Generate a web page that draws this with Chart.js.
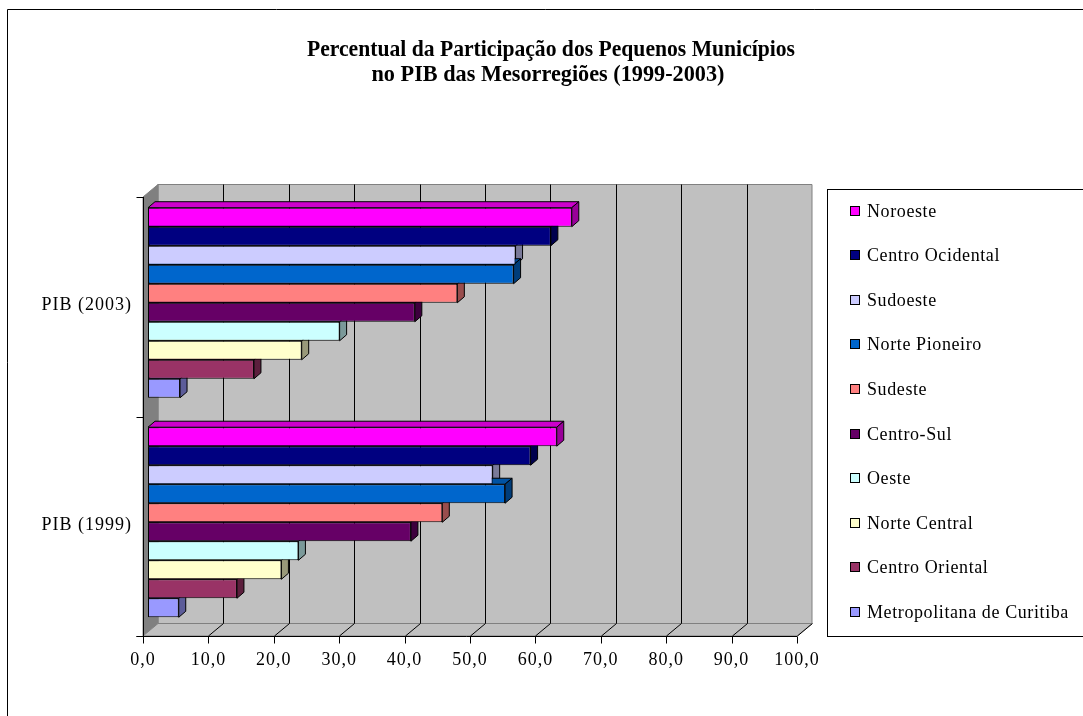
<!DOCTYPE html>
<html lang="pt-BR">
<head>
<meta charset="utf-8">
<title>Participação dos Pequenos Municípios no PIB</title>
<script src="https://cdn.jsdelivr.net/npm/chart.js@4.4.1/dist/chart.umd.min.js"></script>
<style>
  html, body { margin: 0; padding: 0; background: #fff; }
  #wrap { width: 1083px; height: 716px; }
</style>
</head>
<body>
<div id="wrap"><canvas id="pibChart" width="1083" height="716"></canvas></div>
<script>
// categorias (anos) e mesorregiões
const categorias = ['PIB (2003)', 'PIB (1999)'];
const regioes = [
    'Noroeste', 'Centro Ocidental', 'Sudoeste', 'Norte Pioneiro', 'Sudeste',
    'Centro-Sul', 'Oeste', 'Norte Central', 'Centro Oriental', 'Metropolitana de Curitiba'
];
// percentual de participação por mesorregião
const pib2003 = [64.8, 61.6, 56.2, 55.9, 47.3, 40.8, 29.3, 23.5, 16.2, 4.9];
const pib1999 = [62.5, 58.5, 52.7, 54.6, 45.0, 40.2, 23.0, 20.4, 13.6, 4.7];
const escalaX = [0, 100, 10];  // min, max, passo

const cores = ['#FF00FF', '#000080', '#CCCCFF', '#0066CC', '#FF8080',
               '#660066', '#CCFFFF', '#FFFFCC', '#993366', '#9999FF'];

const SERIF = '"Liberation Serif", "Times New Roman", serif';
const FRONT = { x: -5, y: 4 };     // front edge of walls/floor, relative to bar plane
const BACK = { x: 10, y: -8.5 };   // back wall, relative to bar plane
const BAR_D = { x: 7, y: -6 };     // depth of each bar

function shade(hex, f) {
    const n = parseInt(hex.slice(1), 16);
    const r = Math.round(((n >> 16) & 255) * f);
    const g = Math.round(((n >> 8) & 255) * f);
    const b = Math.round((n & 255) * f);
    return `rgb(${r},${g},${b})`;
}

function poly(ctx, pts, fill, stroke) {
    ctx.beginPath();
    ctx.moveTo(pts[0][0], pts[0][1]);
    for (let i = 1; i < pts.length; i++) ctx.lineTo(pts[i][0], pts[i][1]);
    ctx.closePath();
    if (fill) { ctx.fillStyle = fill; ctx.fill(); }
    if (stroke) { ctx.strokeStyle = stroke; ctx.lineWidth = 1; ctx.stroke(); }
}

function line(ctx, x1, y1, x2, y2, color) {
    ctx.beginPath();
    ctx.moveTo(x1, y1);
    ctx.lineTo(x2, y2);
    ctx.strokeStyle = color;
    ctx.lineWidth = 1;
    ctx.stroke();
}

// walls, floor, frame and title
const cenario3d = {
    id: 'cenario3d',
    beforeDraw(chart) {
        const ctx = chart.ctx;
        const a = chart.chartArea;
        const xs = chart.scales.x, ys = chart.scales.y;
        ctx.letterSpacing = '1px';

        ctx.save();
        // outer frame
        line(ctx, 7.5, 716, 7.5, 9.5, '#000');
        line(ctx, 7.5, 9.5, 1083, 9.5, '#000');

        // title
        ctx.letterSpacing = '0px';
        ctx.fillStyle = '#000';
        ctx.font = 'bold 24px ' + SERIF;
        ctx.textAlign = 'center';
        ctx.textBaseline = 'alphabetic';
        ctx.fillText('Percentual da Participação dos Pequenos Municípios', 551, 56, 488);
        ctx.fillText('no PIB das Mesorregiões (1999-2003)', 548, 81, 353);

        const x0 = xs.getPixelForValue(escalaX[0]);
        const x1 = xs.getPixelForValue(escalaX[1]);
        const top = a.top, bot = a.bottom;

        // back wall
        poly(ctx, [[x0 + BACK.x, top + BACK.y], [x1 + BACK.x, top + BACK.y],
                   [x1 + BACK.x, bot + BACK.y], [x0 + BACK.x, bot + BACK.y]], '#C0C0C0', '#808080');
        // side wall
        poly(ctx, [[x0 + FRONT.x, top + FRONT.y], [x0 + BACK.x, top + BACK.y],
                   [x0 + BACK.x, bot + BACK.y], [x0 + FRONT.x, bot + FRONT.y]], '#808080', '#808080');
        // floor
        poly(ctx, [[x0 + FRONT.x, bot + FRONT.y], [x0 + BACK.x, bot + BACK.y],
                   [x1 + BACK.x, bot + BACK.y], [x1 + FRONT.x, bot + FRONT.y]], '#C0C0C0', '#808080');

        // gridlines on the back wall and across the floor
        for (let v = escalaX[0] + escalaX[2]; v <= escalaX[1]; v += escalaX[2]) {
            const px = Math.round(xs.getPixelForValue(v)) + 0.5;
            if (v < escalaX[1]) line(ctx, px + BACK.x, top + BACK.y, px + BACK.x, bot + BACK.y, '#000');
            line(ctx, px + FRONT.x, bot + FRONT.y, px + BACK.x, bot + BACK.y, '#000');
        }

        // front axes
        const fx = Math.round(x0 + FRONT.x) + 0.5;
        const fy = Math.round(bot + FRONT.y) + 0.5;
        line(ctx, fx, top + FRONT.y, fx, fy, '#000');
        line(ctx, fx - 7, fy, x1 + FRONT.x, fy, '#000');
        for (let v = escalaX[0]; v <= escalaX[1]; v += escalaX[2]) {
            const px = Math.round(xs.getPixelForValue(v) + FRONT.x) + 0.5;
            line(ctx, px, fy, px, fy + 7, '#000');
        }
        const passo = (ys.bottom - ys.top) / categorias.length;
        for (let i = 0; i <= categorias.length; i++) {
            const py = Math.round(ys.top + passo * i + FRONT.y) + 0.5;
            line(ctx, fx - 7, py, fx, py, '#000');
        }
        ctx.restore();
        ctx.letterSpacing = '1px';
    },
    // top and side faces of each bar; the front faces come from the bar elements
    beforeDatasetsDraw(chart) {
        const ctx = chart.ctx;
        ctx.save();
        chart.data.datasets.forEach((ds, i) => {
            const meta = chart.getDatasetMeta(i);
            meta.data.forEach(bar => {
                const { x, y, base, height } = bar.getProps(['x', 'y', 'base', 'height'], true);
                const yt = y - height / 2, yb = y + height / 2;
                poly(ctx, [[base, yt], [base + BAR_D.x, yt + BAR_D.y], [x + BAR_D.x, yt + BAR_D.y], [x, yt]],
                     shade(ds.backgroundColor, 0.8), '#000');
                poly(ctx, [[x, yt], [x + BAR_D.x, yt + BAR_D.y], [x + BAR_D.x, yb + BAR_D.y], [x, yb]],
                     shade(ds.backgroundColor, 0.6), '#000');
            });
        });
        ctx.restore();
    },
    // boxed legend on the right
    afterDraw(chart) {
        const ctx = chart.ctx;
        ctx.save();
        ctx.strokeStyle = '#000';
        ctx.lineWidth = 1;
        ctx.strokeRect(827.5, 189.5, 300, 447);
        ctx.font = '18px ' + SERIF;
        ctx.letterSpacing = '0.6px';
        ctx.textAlign = 'left';
        ctx.textBaseline = 'alphabetic';
        chart.data.datasets.forEach((ds, i) => {
            const by = Math.round(216.5 + 44.6 * i);
            ctx.fillStyle = ds.backgroundColor;
            ctx.fillRect(850, by - 11, 10, 10);
            ctx.strokeRect(850.5, by - 10.5, 9, 9);
            ctx.fillStyle = '#000';
            ctx.fillText(ds.label, 867, by);
        });
        ctx.restore();
    }
};

new Chart(document.getElementById('pibChart'), {
    type: 'bar',
    data: {
        labels: categorias,
        datasets: regioes.map((nome, i) => ({
            label: nome,
            data: [pib2003[i], pib1999[i]],
            backgroundColor: cores[i],
            borderColor: '#000',
            borderWidth: 1,
            borderSkipped: false,
            categoryPercentage: 0.866,
            barPercentage: 1.0
        }))
    },
    options: {
        indexAxis: 'y',
        responsive: false,
        animation: false,
        layout: { padding: { top: 193, right: 281, bottom: 0, left: 0 } },
        plugins: { legend: { display: false }, title: { display: false }, tooltip: { enabled: false } },
        scales: {
            x: {
                min: escalaX[0], max: escalaX[1],
                grid: { display: false, drawTicks: false },
                border: { display: false },
                ticks: {
                    stepSize: escalaX[2], padding: 17, labelOffset: -5, color: '#000',
                    font: { family: SERIF, size: 18 }, maxRotation: 0,
                    callback: v => v.toFixed(1).replace('.', ',')
                },
                afterFit: s => { s.height = 84; }
            },
            y: {
                grid: { display: false, drawTicks: false },
                border: { display: false },
                ticks: { padding: 16, labelOffset: 3, color: '#000', font: { family: SERIF, size: 18 } },
                afterFit: s => { s.width = 148; }
            }
        }
    },
    plugins: [cenario3d]
});
</script>
</body>
</html>
